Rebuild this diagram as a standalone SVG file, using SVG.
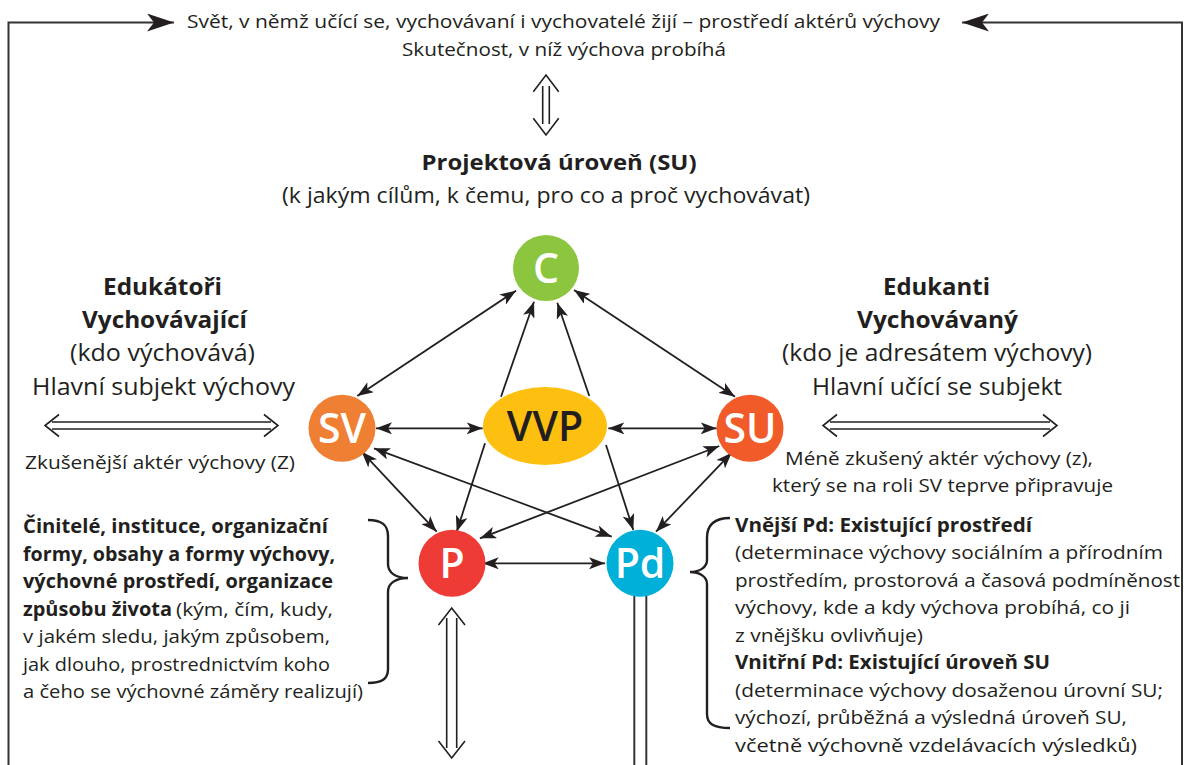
<svg xmlns="http://www.w3.org/2000/svg" width="1184" height="765" viewBox="0 0 1184 765">
<defs>
<style>
text{font-family:"Open Sans","Noto Sans","DejaVu Sans",sans-serif;fill:#231f20}
.b{font-weight:bold}
.t17{font-size:18px}
.t18{font-size:19px}
.t20{font-size:21px}
.t22{font-size:23px}
.c{text-anchor:middle}
.lbl{font-size:41px;font-weight:600;fill:#fff;text-anchor:middle}
.con{stroke:#231f20;stroke-width:1.8;fill:none}
.hol{stroke:#231f20;stroke-width:1.6;fill:none}
.frame{stroke:#333;stroke-width:2;fill:none}
</style>
<marker id="ah" viewBox="0 0 16 12" refX="16" refY="6" markerWidth="16" markerHeight="12" markerUnits="userSpaceOnUse" orient="auto-start-reverse">
<path d="M0,0 L16,6 L0,12 L4,6 z" fill="#231f20"/>
</marker>
<marker id="big" viewBox="0 0 27 18" refX="27" refY="9" markerWidth="27" markerHeight="18" markerUnits="userSpaceOnUse" orient="auto">
<path d="M0,0 L27,9 L0,18 L7,9 z" fill="#231f20"/>
</marker>
</defs>
<rect width="1184" height="765" fill="#fff"/>

<g id="frame">
<polyline class="frame" points="8.5,765 8.5,22.5 174,22.5" marker-end="url(#big)"/>
<polyline class="frame" points="1182,765 1182,22.5 962,22.5" marker-end="url(#big)"/>
</g>

<g id="texts">
<text class="t17 c" x="563.5" y="28" textLength="753" lengthAdjust="spacingAndGlyphs">Svět, v němž učící se, vychovávaní i vychovatelé žijí – prostředí aktérů výchovy</text>
<text class="t17 c" x="564" y="56" textLength="324" lengthAdjust="spacingAndGlyphs">Skutečnost, v níž výchova probíhá</text>
<text class="t20 b c" x="559" y="170" textLength="275" lengthAdjust="spacingAndGlyphs">Projektová úroveň (SU)</text>
<text class="t20 c" x="546" y="203" textLength="528" lengthAdjust="spacingAndGlyphs">(k jakým cílům, k čemu, pro co a proč vychovávat)</text>

<text class="t22 b c" x="162.5" y="295" textLength="119" lengthAdjust="spacingAndGlyphs">Edukátoři</text>
<text class="t22 b c" x="164.5" y="328" textLength="165" lengthAdjust="spacingAndGlyphs">Vychovávající</text>
<text class="t22 c" x="162.5" y="361" textLength="185" lengthAdjust="spacingAndGlyphs">(kdo výchovává)</text>
<text class="t22 c" x="163.5" y="395" textLength="263" lengthAdjust="spacingAndGlyphs">Hlavní subjekt výchovy</text>
<text class="t17 c" x="160" y="469" textLength="270" lengthAdjust="spacingAndGlyphs">Zkušenější aktér výchovy (Z)</text>

<text class="t22 b c" x="936.5" y="295" textLength="107" lengthAdjust="spacingAndGlyphs">Edukanti</text>
<text class="t22 b c" x="937.5" y="328" textLength="161" lengthAdjust="spacingAndGlyphs">Vychovávaný</text>
<text class="t22 c" x="937" y="361" textLength="310" lengthAdjust="spacingAndGlyphs">(kdo je adresátem výchovy)</text>
<text class="t22 c" x="937" y="395" textLength="250" lengthAdjust="spacingAndGlyphs">Hlavní učící se subjekt</text>
<text class="t17 c" x="939" y="465" textLength="308" lengthAdjust="spacingAndGlyphs">Méně zkušený aktér výchovy (z),</text>
<text class="t17 c" x="942.5" y="492" textLength="341" lengthAdjust="spacingAndGlyphs">který se na roli SV teprve připravuje</text>

<text class="t18 b" x="23" y="533" textLength="305" lengthAdjust="spacingAndGlyphs">Činitelé, instituce, organizační</text>
<text class="t18 b" x="23" y="560.5" textLength="312" lengthAdjust="spacingAndGlyphs">formy, obsahy a formy výchovy,</text>
<text class="t18 b" x="23" y="588" textLength="310" lengthAdjust="spacingAndGlyphs">výchovné prostředí, organizace</text>
<text class="t18 b" x="23" y="615.5" textLength="149" lengthAdjust="spacingAndGlyphs">způsobu života</text>
<text class="t18" x="176" y="615.5" textLength="157" lengthAdjust="spacingAndGlyphs">(kým, čím, kudy,</text>
<text class="t18" x="23" y="643" textLength="307" lengthAdjust="spacingAndGlyphs">v jakém sledu, jakým způsobem,</text>
<text class="t18" x="23" y="670.5" textLength="307" lengthAdjust="spacingAndGlyphs">jak dlouho, prostrednictvím koho</text>
<text class="t18" x="23" y="698" textLength="340" lengthAdjust="spacingAndGlyphs">a čeho se výchovné záměry realizují)</text>

<text class="t18 b" x="735" y="531.5" textLength="297" lengthAdjust="spacingAndGlyphs">Vnější Pd: Existující prostředí</text>
<text class="t18" x="735" y="559" textLength="428" lengthAdjust="spacingAndGlyphs">(determinace výchovy sociálním a přírodním</text>
<text class="t18" x="735" y="586.5" textLength="445" lengthAdjust="spacingAndGlyphs">prostředím, prostorová a časová podmíněnost</text>
<text class="t18" x="735" y="614" textLength="395" lengthAdjust="spacingAndGlyphs">výchovy, kde a kdy výchova probíhá, co ji</text>
<text class="t18" x="735" y="641.5" textLength="188" lengthAdjust="spacingAndGlyphs">z vnějšku ovlivňuje)</text>
<text class="t18 b" x="735" y="669" textLength="315" lengthAdjust="spacingAndGlyphs">Vnitřní Pd: Existující úroveň SU</text>
<text class="t18" x="735" y="696.5" textLength="428" lengthAdjust="spacingAndGlyphs">(determinace výchovy dosaženou úrovní SU;</text>
<text class="t18" x="735" y="724" textLength="392" lengthAdjust="spacingAndGlyphs">výchozí, průběžná a výsledná úroveň SU,</text>
<text class="t18" x="735" y="751.5" textLength="402" lengthAdjust="spacingAndGlyphs">včetně výchovně vzdelávacích výsledků)</text>
</g>

<g id="connectors">
<line class="con" x1="516" y1="290.7" x2="357.3" y2="396" marker-start="url(#ah)" marker-end="url(#ah)"/>
<line class="con" x1="574" y1="290" x2="735" y2="396.7" marker-start="url(#ah)" marker-end="url(#ah)"/>
<line class="con" x1="501" y1="396.7" x2="534" y2="301.7" marker-end="url(#ah)"/>
<line class="con" x1="589.3" y1="396" x2="557.3" y2="302.7" marker-end="url(#ah)"/>
<line class="con" x1="376" y1="428.3" x2="482.7" y2="428.3" marker-start="url(#ah)" marker-end="url(#ah)"/>
<line class="con" x1="608.3" y1="428.3" x2="716.7" y2="428.3" marker-start="url(#ah)" marker-end="url(#ah)"/>
<line class="con" x1="485" y1="443.3" x2="456.7" y2="531.7" marker-end="url(#ah)"/>
<line class="con" x1="606" y1="445" x2="633.3" y2="530" marker-end="url(#ah)"/>
<line class="con" x1="361.7" y1="451.7" x2="436.7" y2="531.7" marker-start="url(#ah)" marker-end="url(#ah)"/>
<line class="con" x1="374" y1="448.3" x2="611.7" y2="536.7" marker-start="url(#ah)" marker-end="url(#ah)"/>
<line class="con" x1="719.3" y1="446" x2="480" y2="538.3" marker-start="url(#ah)" marker-end="url(#ah)"/>
<line class="con" x1="731.7" y1="452.7" x2="656" y2="531.7" marker-start="url(#ah)" marker-end="url(#ah)"/>
<line class="con" x1="482.7" y1="563.3" x2="605" y2="563.3" marker-start="url(#ah)" marker-end="url(#ah)"/>

<g id="hollow-top">
<line class="hol" x1="542.7" y1="86" x2="542.7" y2="124"/>
<line class="hol" x1="549.3" y1="86" x2="549.3" y2="124"/>
<polyline class="hol" points="533.3,91.7 546,75 558.7,91.7"/>
<polyline class="hol" points="533.3,118.3 546,135 558.7,118.3"/>
</g>
<g id="hollow-left">
<line class="hol" x1="52" y1="422" x2="271" y2="422"/>
<line class="hol" x1="52" y1="429" x2="271" y2="429"/>
<polyline class="hol" points="59,414.5 45,425.5 59,436.5"/>
<polyline class="hol" points="264,414.5 278,425.5 264,436.5"/>
</g>
<g id="hollow-right">
<line class="hol" x1="830" y1="422" x2="1050" y2="422"/>
<line class="hol" x1="830" y1="429" x2="1050" y2="429"/>
<polyline class="hol" points="837,414.5 823,425.5 837,436.5"/>
<polyline class="hol" points="1043,414.5 1057,425.5 1043,436.5"/>
</g>
<g id="hollow-bottom">
<line class="hol" x1="446.7" y1="618" x2="446.7" y2="748"/>
<line class="hol" x1="456.7" y1="618" x2="456.7" y2="748"/>
<polyline class="hol" points="438.5,625 451.7,608 465,625"/>
<polyline class="hol" points="438.5,741 451.7,758 465,741"/>
</g>
<g id="pd-down">
<line class="frame" x1="634.3" y1="594" x2="634.3" y2="765"/>
<line class="frame" x1="646.3" y1="594" x2="646.3" y2="765"/>
</g>
<path class="con" style="stroke-width:2.4" d="M368,520 C382,520 388,525 388,536 L388,564 C388,573 396,578 408,578 C396,578 388,583 388,592 L388,669 C388,679 382,683 368,683"/>
<path class="con" style="stroke-width:2.4" d="M730,518 C714,518 707,525 707,538 L707,560 C707,567 700,572 690,572 C700,572 707,577 707,584 L707,714 C707,724 714,728 730,728"/>
</g>

<g id="node-C"><circle cx="546" cy="268" r="33" fill="#8cc63f"/><text class="lbl" x="546" y="282.5">C</text></g>
<g id="node-SV"><circle cx="342" cy="428.3" r="33.5" fill="#ef7f33"/><text class="lbl" x="342" y="443">SV</text></g>
<g id="node-VVP"><ellipse cx="545" cy="426" rx="62" ry="39" fill="#fdc010"/><text class="lbl" style="fill:#231f20" x="545" y="440.5">VVP</text></g>
<g id="node-SU"><circle cx="750" cy="428.3" r="33.5" fill="#f15a29"/><text class="lbl" x="750" y="443">SU</text></g>
<g id="node-P"><circle cx="452" cy="563.3" r="33.5" fill="#ee3b36"/><text class="lbl" x="452" y="578">P</text></g>
<g id="node-Pd"><circle cx="640" cy="563.3" r="33.5" fill="#00b0d8"/><text class="lbl" x="640" y="578">Pd</text></g>
</svg>
